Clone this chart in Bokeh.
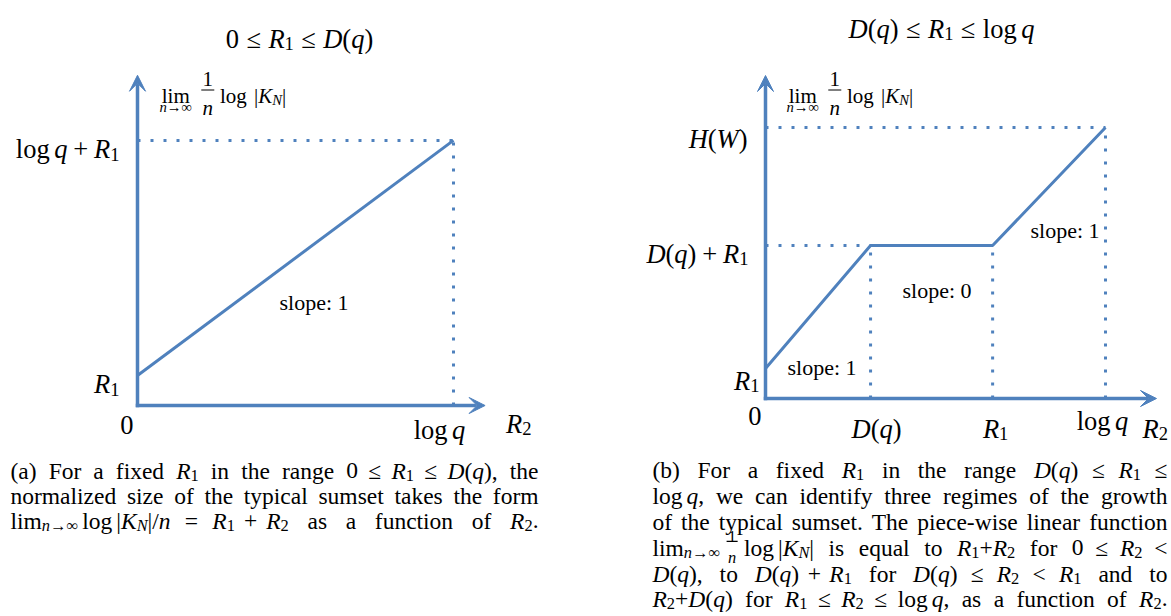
from bokeh.plotting import figure
from bokeh.models import ColumnDataSource, Arrow, VeeHead
from bokeh.layouts import row
from bokeh.core.properties import value
from bokeh.embed import file_html
from bokeh.resources import INLINE

# ------------------------------------------------------------------ data
# panel (a): 0 <= R1 <= D(q)  -> one regime of slope 1
a_r2 = [0.0, 10.0]                      # R2 : 0 ... log q
a_size = [0.95, 8.39]                   # lim (1/n) log|K_N| : R1 ... log q + R1
a_xtick_vals = [10.0]
a_xtick_labels = [r"$\log q$"]
a_ytick_vals = [0.95, 8.39]
a_ytick_labels = [r"$R_1$", r"$\log q + R_1$"]
a_slopes = [1]

# panel (b): D(q) <= R1 <= log q -> three regimes
b_r2 = [0.0, 3.09, 6.68, 10.0]          # 0, D(q), R1, log q
b_size = [0.88, 4.5, 4.5, 7.97]         # R1, D(q)+R1, D(q)+R1, H(W)
b_xtick_vals = [3.09, 6.68, 10.0]
b_xtick_labels = [r"$D(q)$", r"$R_1$", r"$\log q$"]
b_ytick_vals = [0.88, 4.5, 7.97]
b_ytick_labels = [r"$R_1$", r"$D(q) + R_1$", r"$H(W)$"]
b_slopes = [1, 0, 1]

a_title = r"$0 ≤ R_1 ≤ D(q)$"
b_title = r"$D(q) ≤ R_1 ≤ \log q$"
y_label = r"$\Lim{n→∞}~\dfrac{1}{n}~\log~|\K_N|$"
x_label = r"$R_2$"
origin_label = r"$0$"

a_caption = [
    r"(a) For a fixed $R_1$ in the range $0 ≤ R_1 ≤ D(q)$, the",
    r"normalized size of the typical sumset takes the form",
    r"$\lim_{n→∞}~\log|\K_N|/n = R_1 + R_2$ as a function of $R_2$.",
]
b_caption = [
    r"(b) For a fixed $R_1$ in the range $D(q) ≤ R_1 ≤$",
    r"$\log q$, we can identify three regimes of the growth",
    r"of the typical sumset. The piece-wise linear function",
    r"$\lim_{n→∞}~\frac{1}{n}~\log|\K_N|$ is equal to $R_1\p R_2$ for $0 ≤ R_2 <$",
    r"$D(q)$, to $D(q) + R_1$ for $D(q) ≤ R_2 < R_1$ and to",
    r"$R_2\p D(q)$ for $R_1 ≤ R_2 ≤ \log q$, as a function of $R_2$.",
]

# ------------------------------------------------------------------ style
BLUE = "#4F81BD"
FONT = "Liberation Serif"
H = 616
PAGE_TOP = 0

# ------------------------------------------------------------------ tiny math typesetter
RW = {' ': .25, '(': .333, ')': .333, ',': .25, '.': .25, '-': .333, ':': .278,
      '/': .278, '|': .2, '+': .564, '=': .564, '<': .564, '≤': .549, '→': 1.0,
      '∞': .713}
for d in "0123456789":
    RW[d] = .5
RW.update(dict(a=.444, b=.5, c=.444, d=.5, e=.444, f=.333, g=.5, h=.5, i=.278, j=.278,
               k=.5, l=.278, m=.778, n=.5, o=.5, p=.5, q=.5, r=.333, s=.389, t=.278,
               u=.5, v=.5, w=.722, x=.5, y=.5, z=.444, A=.722, B=.667, C=.667, D=.722,
               E=.611, F=.556, G=.722, H=.722, I=.333, J=.389, K=.722, L=.611, M=.889,
               N=.722, O=.722, P=.556, Q=.722, R=.667, S=.556, T=.611, U=.722, V=.722,
               W=.944, X=.722, Y=.722, Z=.611))
IW = dict(a=.5, b=.5, c=.444, d=.5, e=.444, f=.278, g=.5, h=.5, i=.278, j=.278, k=.444,
          l=.278, m=.722, n=.5, o=.5, p=.5, q=.5, r=.389, s=.389, t=.278, u=.5, v=.444,
          w=.667, x=.444, y=.444, z=.389, A=.611, B=.611, C=.667, D=.722, E=.611, F=.611,
          G=.722, H=.722, I=.333, J=.444, K=.667, L=.556, M=.833, N=.667, O=.722, P=.611,
          Q=.722, R=.611, S=.5, T=.556, U=.722, V=.611, W=.833, X=.611, Y=.556, Z=.556)


def cw(ch, it):
    if it and ch in IW:
        return IW[ch]
    return RW.get(ch, 0.5)


class Box:
    def __init__(self, w, runs, bars=()):
        self.w = w
        self.runs = list(runs)
        self.bars = list(bars)


class Glue:
    def __init__(self, w, st=1.0):
        self.w = w
        self.st = st


def gbox(t, it, sc=1.0, dy=0.0):
    return Box(sum(cw(c, it) for c in t) * sc, [(0.0, dy, t, it, sc)])


def shifted(box, dx):
    return Box(box.w, [(r[0] + dx,) + r[1:] for r in box.runs],
               [(b[0] + dx, b[1] + dx) + b[2:] for b in box.bars])


def hpack(items):
    x = 0.0
    runs, bars = [], []
    for it in items:
        if isinstance(it, Glue):
            x += it.w
            continue
        runs += shifted(it, x).runs
        bars += shifted(it, x).bars
        x += it.w
    return Box(x, runs, bars)


def read_group(s, i):
    if s[i] == '{':
        d, j = 1, i + 1
        while d:
            if s[j] == '{':
                d += 1
            elif s[j] == '}':
                d -= 1
            j += 1
        return s[i + 1:j - 1], j
    return s[i], i + 1


def math(s, sc=1.0, dy=0.0):
    out = []
    i = 0
    while i < len(s):
        c = s[i]
        if c == ' ':
            i += 1
            continue
        if c == '\\':
            j = i + 1
            while j < len(s) and s[j].isalpha():
                j += 1
            name = s[i + 1:j]
            i = j
            if name in ('log', 'lim'):
                if out and not isinstance(out[-1], Glue):
                    out.append(Glue(0.17 * sc, 0))
                out.append(gbox(name, False, sc, dy))
                if name == 'log':
                    out.append(Glue(0.17 * sc, 0))
            elif name == 'Lim':
                g, i = read_group(s, i)
                top = gbox('lim', False, sc, dy)
                bot = hpack(math(g, sc * 0.7, dy + 0.55 * sc))
                w = max(top.w, bot.w)
                out.append(Box(w, shifted(top, (w - top.w) / 2).runs +
                               shifted(bot, (w - bot.w) / 2).runs))
                out.append(Glue(0.17 * sc, 0))
            elif name in ('frac', 'dfrac'):
                g1, i = read_group(s, i)
                g2, i = read_group(s, i)
                fs, up, dn = (0.7, 0.45, 0.42) if name == 'frac' else (1.0, 0.8, 0.6)
                num = hpack(math(g1, sc * fs, dy - up * sc))
                den = hpack(math(g2, sc * fs, dy + dn * sc))
                w = max(num.w, den.w) + 0.12 * sc
                bar = (0.0, w, dy - 0.26 * sc, 0.05 * sc)
                out += [Glue(0.1 * sc, 0),
                        Box(w, shifted(num, (w - num.w) / 2).runs +
                            shifted(den, (w - den.w) / 2).runs, [bar]),
                        Glue(0.1 * sc, 0)]
            elif name == 'K':
                out.append(gbox('K', True, sc, dy))
            elif name == 'p':
                out.append(gbox('+', False, sc, dy))
            continue
        if c == '_':
            g, i = read_group(s, i + 1)
            out.append(hpack(math(g, sc * 0.7, dy + 0.2 * sc)))
            continue
        if c == '~':
            out.append(Glue(0.17 * sc, 0))
        elif c in '≤<=':
            out += [Glue(0.28 * sc, 0.6), gbox(c, False, sc, dy), Glue(0.28 * sc, 0.6)]
        elif c == '+':
            out += [Glue(0.22 * sc, 0.3), gbox(c, False, sc, dy), Glue(0.22 * sc, 0.3)]
        elif c.isascii() and c.isalpha():
            out.append(gbox(c, True, sc, dy))
        else:
            out.append(gbox(c, False, sc, dy))
        i += 1
    return out


def rich(s):
    out = []
    for k, part in enumerate(s.split('$')):
        if k % 2:
            out += math(part)
        else:
            for ch in part:
                out.append(Glue(0.25, 1.0) if ch == ' ' else gbox(ch, False))
    while out and isinstance(out[0], Glue):
        out.pop(0)
    while out and isinstance(out[-1], Glue):
        out.pop()
    return out


def layout(items, width=None):
    nat = sum(it.w for it in items)
    st = sum(it.st for it in items if isinstance(it, Glue))
    extra = 0.0 if (width is None or st == 0) else (width - nat) / st
    x = 0.0
    runs, bars = [], []
    for it in items:
        if isinstance(it, Glue):
            x += it.w + extra * it.st
            continue
        for r in it.runs:
            rx, dy, t, itl, sc = r
            rx += x
            if runs:
                px, pdy, pt, pit, psc = runs[-1]
                pw = sum(cw(c, pit) for c in pt) * psc
                if pdy == dy and pit == itl and psc == sc and abs(px + pw - rx) < 1e-9:
                    runs[-1] = (px, pdy, pt + t, pit, psc)
                    continue
            runs.append((rx, dy, t, itl, sc))
        bars += shifted(it, x).bars
        x += it.w
    return runs, bars, x


class Panel:
    def __init__(self, page_left, width, ox, oy, ppu):
        self.ox, self.oy, self.ppu = ox, oy, ppu
        self.p = figure(width=width, height=H,
                        x_range=((page_left - ox) / ppu, (page_left + width - ox) / ppu),
                        y_range=((oy - PAGE_TOP - H) / ppu, (oy - PAGE_TOP) / ppu),
                        x_axis_location=None, y_axis_location=None,
                        output_backend="svg", toolbar_location=None, tools="",
                        min_border=0)
        self.p.grid.visible = False
        self.p.outline_line_color = None
        self.txt = {False: dict(x=[], y=[], text=[], size=[]),
                    True: dict(x=[], y=[], text=[], size=[])}
        self.bar = dict(x0=[], y0=[], x1=[], y1=[], w=[])

    def X(self, px):
        return (px - self.ox) / self.ppu

    def Y(self, py):
        return (self.oy - py) / self.ppu

    def px(self, x):
        return self.ox + x * self.ppu

    def py(self, y):
        return self.oy - y * self.ppu

    def text(self, s, x, base, size, align='left', width=None):
        runs, bars, w = layout(rich(s), None if width is None else width / size)
        if width is not None:
            w = width / size
        x0 = x - w * size / 2 if align == 'center' else (x - w * size if align == 'right' else x)
        for rx, dy, t, it, sc in runs:
            d = self.txt[it]
            d['x'].append(self.X(x0 + rx * size))
            d['y'].append(self.Y(base + dy * size))
            d['text'].append(t)
            d['size'].append("%.2fpx" % (size * sc))
        for b0, b1, dy, th in bars:
            self.bar['x0'].append(self.X(x0 + b0 * size))
            self.bar['x1'].append(self.X(x0 + b1 * size))
            self.bar['y0'].append(self.Y(base + dy * size))
            self.bar['y1'].append(self.Y(base + dy * size))
            self.bar['w'].append(max(1.0, th * size))

    def axes(self, x_end, y_end):
        hw = 1.75 / self.ppu
        for (xs, ys, xe, ye) in [(-hw, 0, x_end, 0), (0, -hw, 0, y_end)]:
            self.p.add_layout(Arrow(end=VeeHead(size=16, fill_color=BLUE, line_color=BLUE,
                                                line_width=1),
                                    x_start=xs, y_start=ys, x_end=xe, y_end=ye,
                                    line_color=BLUE, line_width=3.5))

    def finish(self):
        for it, d in self.txt.items():
            if d['x']:
                self.p.text(x='x', y='y', text='text', source=ColumnDataSource(d),
                            text_font=value(FONT), text_font_size=dict(field='size'),
                            text_font_style='italic' if it else 'normal',
                            text_color="black", text_align="left",
                            text_baseline="alphabetic")
        if self.bar['x0']:
            self.p.segment(x0='x0', y0='y0', x1='x1', y1='y1', line_width='w',
                           line_color="black", source=ColumnDataSource(self.bar))
        return self.p


TICK = 26.5
SLOPE = 22
CAP = 23.5
YLAB = 21

# ------------------------------------------------------------------ panel (a)
A = Panel(page_left=0, width=586, ox=137, oy=405, ppu=31.6)
pa = A.p
pa.segment(x0=[0, a_r2[-1]], y0=[a_size[-1], 0], x1=[a_r2[-1], a_r2[-1]],
           y1=[a_size[-1], a_size[-1]], line_color=BLUE, line_width=3, line_dash="3 10")
pa.line(a_r2, a_size, line_color=BLUE, line_width=3)
A.axes(x_end=11.0, y_end=10.45)
A.text(a_title, 299, 38, TICK, 'center')
A.text(y_label, 159, 95, YLAB)
for v, lab in zip(a_ytick_vals, a_ytick_labels):
    A.text(lab, A.px(0) - 18, A.py(v) + 9, TICK, 'right')
for v, lab in zip(a_xtick_vals, a_xtick_labels):
    A.text(lab, A.px(v) - 14, A.py(0) + 24, TICK, 'center')
A.text(origin_label, A.px(0) - 4, A.py(0) + 19, TICK, 'right')
A.text(x_label, A.px(11.0) + 21, A.py(0) + 18, TICK)
for k, s in enumerate(a_slopes):
    xm = (a_r2[k] + a_r2[k + 1]) / 2
    A.text("slope: %d" % s, A.px(xm) - 16, A.py(0) - 103, SLOPE)
for k, line in enumerate(a_caption):
    A.text(line, 10, 470 + 25 * k, CAP, width=528)
fa = A.finish()

# ------------------------------------------------------------------ panel (b)
B = Panel(page_left=586, width=585, ox=765, oy=398, ppu=34.0)
pb = B.p
hx = [b_r2[1], b_r2[-1]]
hy = [b_size[1], b_size[-1]]
pb.segment(x0=[0, 0], y0=hy, x1=hx, y1=hy, line_color=BLUE, line_width=3, line_dash="3 10")
pb.segment(x0=b_r2[1:], y0=[0, 0, 0], x1=b_r2[1:], y1=b_size[1:], line_color=BLUE,
           line_width=3, line_dash="3 10")
pb.line(b_r2, b_size, line_color=BLUE, line_width=3)
B.axes(x_end=11.5, y_end=9.5)
B.text(b_title, 941, 28, TICK, 'center')
B.text(y_label, 786, 95, YLAB)
y_offs = [12, 8, 11]
y_gap = [6, 17, 18]
for v, lab, o, g in zip(b_ytick_vals, b_ytick_labels, y_offs, y_gap):
    B.text(lab, B.px(0) - g, B.py(v) + o, TICK, 'right')
x_shift = [6, 3, -3]
x_base = [30, 30, 22]
for v, lab, sh, bs in zip(b_xtick_vals, b_xtick_labels, x_shift, x_base):
    B.text(lab, B.px(v) + sh, B.py(0) + bs, TICK, 'center')
B.text(origin_label, B.px(0) - 4, B.py(0) + 17, TICK, 'right')
B.text(x_label, B.px(11.5) - 14, B.py(0) + 30, TICK)
slope_pos = [(787, 367), (902, 290), (1030, 230)]
for s, (sx, sy) in zip(b_slopes, slope_pos):
    B.text("slope: %d" % s, sx, sy, SLOPE)
b_base = [469, 495, 521, 547, 573, 598]
for line, yb in zip(b_caption, b_base):
    B.text(line, 652, yb, CAP, width=515)
fb = B.finish()

layout_all = row(fa, fb)
open("out.html", "w").write(file_html(layout_all, INLINE))
